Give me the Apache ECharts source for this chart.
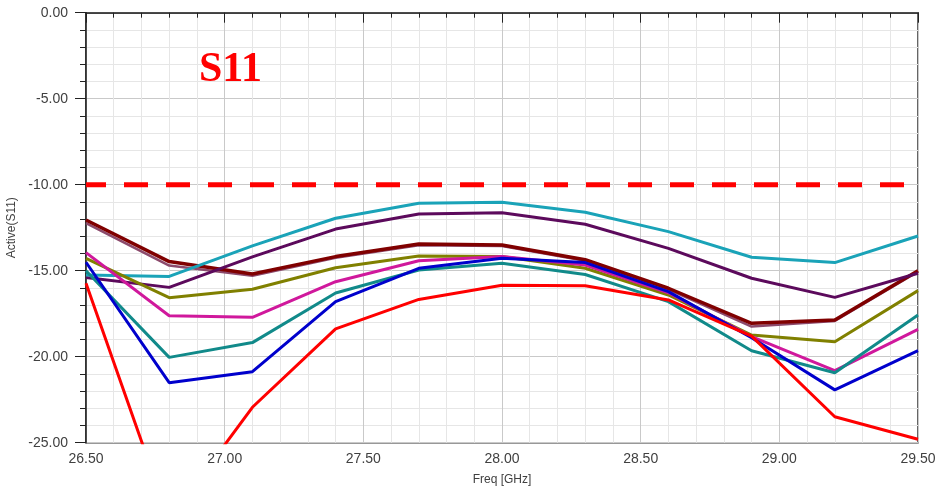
<!DOCTYPE html>
<html>
<head>
<meta charset="utf-8">
<script src="https://cdn.jsdelivr.net/npm/echarts@6/dist/echarts.min.js"></script>
<style>html,body{margin:0;padding:0;background:#fff}#c{width:947px;height:487px}</style>
</head>
<body>
<div id="c"></div>
<script>
const freqs = [26.5, 26.8, 27.1, 27.4, 27.7, 28.0, 28.3, 28.6, 28.9, 29.2, 29.5];
const cyan    = [-15.25, -15.33, -13.56, -11.95, -11.08, -11.02, -11.6, -12.73, -14.22, -14.53, -12.98];
const purple  = [-15.4, -15.97, -14.2, -12.58, -11.7, -11.63, -12.3, -13.7, -15.44, -16.55, -15.15];
const maroon  = [-12.05, -14.47, -15.19, -14.18, -13.45, -13.51, -14.36, -16.02, -18.06, -17.87, -15.0];
const mauve   = [-12.24, -14.7, -15.3, -14.25, -13.52, -13.56, -14.42, -16.08, -18.25, -17.92, -15.05];
const olive   = [-14.28, -16.57, -16.08, -14.83, -14.15, -14.18, -14.86, -16.41, -18.74, -19.13, -16.16];
const magenta = [-13.95, -17.62, -17.71, -15.64, -14.42, -14.18, -14.67, -16.28, -18.83, -20.81, -18.41];
const teal    = [-15.0, -20.04, -19.18, -16.3, -14.96, -14.57, -15.22, -16.8, -19.65, -20.93, -17.58];
const blue    = [-14.51, -21.51, -20.87, -16.8, -14.86, -14.28, -14.53, -16.22, -18.9, -21.93, -19.65];
const red     = [-15.73, -29.5, -22.94, -18.38, -16.67, -15.85, -15.87, -16.7, -18.8, -23.49, -24.8];
const limitX = [26.5, 29.5];
const limitY = [-10, -10];
const xTicks = [26.5, 27.0, 27.5, 28.0, 28.5, 29.0, 29.5];
const yTicks = [-25, -20, -15, -10, -5, 0];

const chart = echarts.init(document.getElementById('c'), null, {renderer: 'canvas'});
function mk(name, vals, color, width) {
  return {
    name: name, type: 'line', data: vals.map((v, i) => [freqs[i], v]),
    showSymbol: false, symbol: 'none', clip: true,
    lineStyle: {color: color, width: width},
    emphasis: {disabled: true}, animation: false
  };
}
const axisLabelStyle = {color: '#404040', fontFamily: 'Liberation Sans, Arial, sans-serif', fontSize: 14};
chart.setOption({
  animation: false,
  backgroundColor: '#ffffff',
  title: {
    text: 'S11', left: 194, top: 44,
    textStyle: {color: '#ff0000', fontFamily: 'Liberation Serif, Times New Roman, serif', fontWeight: 'bold', fontSize: 42}
  },
  grid: {left: 86, right: 29, top: 12.7, bottom: 44.3, show: true, borderColor: '#333', borderWidth: 1.5,
         backgroundColor: 'transparent', containLabel: false, outerBoundsMode: 'none'},
  xAxis: {
    type: 'value', min: 26.5, max: 29.5, interval: 0.5,
    name: 'Freq [GHz]', nameLocation: 'middle', nameGap: 31,
    nameTextStyle: {color: '#404040', fontFamily: 'Liberation Sans, Arial, sans-serif', fontSize: 12},
    axisLine: {show: true, lineStyle: {color: '#222', width: 1.5}},
    axisTick: {show: true, length: 10, lineStyle: {color: '#222'}},
    minorTick: {show: true, splitNumber: 5, length: 5, lineStyle: {color: '#222'}},
    splitLine: {show: true, lineStyle: {color: '#c9c9c9', width: 1}},
    minorSplitLine: {show: true, lineStyle: {color: '#e6e6e6', width: 1}},
    axisLabel: Object.assign({margin: 9, formatter: v => xTicks.includes(Math.round(v*100)/100) ? v.toFixed(2) : ''}, axisLabelStyle)
  },
  yAxis: {
    type: 'value', min: -25, max: 0, interval: 5,
    name: 'Active(S11)', nameLocation: 'middle', nameGap: 58, nameRotate: 90,
    nameTextStyle: {color: '#404040', fontFamily: 'Liberation Sans, Arial, sans-serif', fontSize: 12},
    axisLine: {show: true, lineStyle: {color: '#222', width: 1.5}},
    axisTick: {show: true, length: 11, lineStyle: {color: '#222'}},
    minorTick: {show: true, splitNumber: 5, length: 6, lineStyle: {color: '#222'}},
    splitLine: {show: true, lineStyle: {color: '#c9c9c9', width: 1}},
    minorSplitLine: {show: true, lineStyle: {color: '#e6e6e6', width: 1}},
    axisLabel: Object.assign({margin: 18, formatter: v => yTicks.includes(Math.round(v)) ? v.toFixed(2) : ''}, axisLabelStyle)
  },
  series: [
    {
      name: 'limit', type: 'line', data: limitX.map((x, i) => [x, limitY[i]]),
      showSymbol: false, symbol: 'none', z: 1,
      lineStyle: {color: '#ff0000', width: 5, type: [24, 18], dashOffset: 4},
      emphasis: {disabled: true}
    },
    mk('mauve', mauve, '#8c4a6c', 2.5),
    mk('maroon', maroon, '#800000', 3.5),
    mk('purple', purple, '#5c0a5c', 3),
    mk('cyan', cyan, '#1aa3b8', 3),
    mk('olive', olive, '#808000', 3),
    mk('magenta', magenta, '#d0189c', 3),
    mk('teal', teal, '#118a8a', 3),
    mk('blue', blue, '#0000cc', 3),
    mk('red', red, '#ff0000', 3)
  ]
});
</script>
</body>
</html>
